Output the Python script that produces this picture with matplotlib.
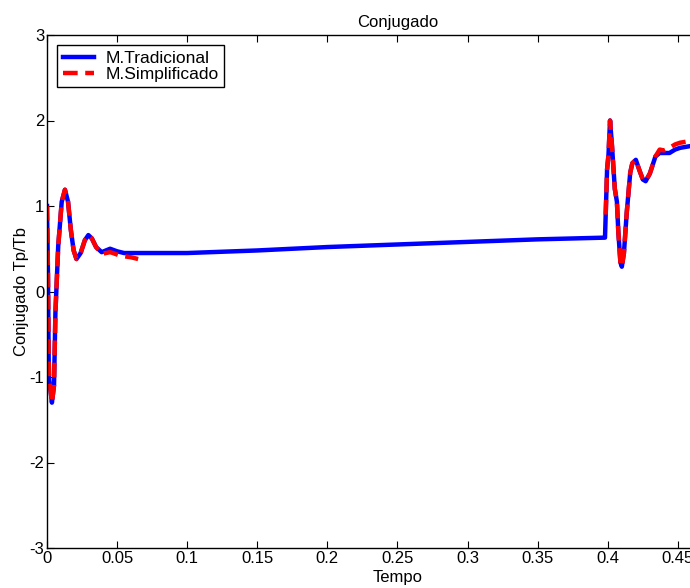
import matplotlib
matplotlib.use('Agg')
import numpy as np
import matplotlib.pyplot as plt

plt.rcParams['font.family'] = ['Liberation Sans', 'DejaVu Sans']
plt.rcParams['axes.unicode_minus'] = False

# M.Tradicional (full run)
t_trad = [0.0, 0.0007, 0.0012, 0.0015, 0.0025, 0.0035, 0.005, 0.006, 0.008,
          0.0105, 0.0128, 0.015, 0.017, 0.019, 0.021, 0.024, 0.027, 0.0295,
          0.032, 0.035, 0.039, 0.045, 0.05, 0.055, 0.07, 0.1, 0.15, 0.2,
          0.25, 0.3, 0.35, 0.398, 0.3985, 0.3995, 0.4005, 0.4016, 0.403,
          0.405, 0.4065, 0.4075, 0.409, 0.410, 0.4115, 0.4135, 0.416,
          0.4175, 0.420, 0.4225, 0.425, 0.427, 0.430, 0.434, 0.437, 0.440,
          0.444, 0.448, 0.4515, 0.4586, 0.47]
c_trad = [1.0, 0.2, -0.8, -1.03, -1.15, -1.3, -1.1, -0.25, 0.53,
          1.05, 1.19, 1.05, 0.72, 0.48, 0.38, 0.45, 0.6, 0.66,
          0.62, 0.52, 0.46, 0.50, 0.47, 0.45, 0.45, 0.45, 0.48, 0.52,
          0.55, 0.58, 0.61, 0.63, 0.9, 1.43, 1.6, 2.0, 1.7,
          1.2, 1.05, 0.7, 0.34, 0.29, 0.45, 0.92, 1.39,
          1.5, 1.54, 1.42, 1.31, 1.29, 1.38, 1.58, 1.62, 1.62,
          1.62, 1.66, 1.68, 1.70, 1.70]

# M.Simplificado (two pieces)
t_simp1 = [0.0, 0.0007, 0.0012, 0.0015, 0.0025, 0.0035, 0.005, 0.006, 0.008,
           0.0105, 0.0128, 0.015, 0.017, 0.019, 0.021, 0.024, 0.027, 0.0295,
           0.032, 0.035, 0.039, 0.045, 0.047, 0.052, 0.056, 0.06, 0.065]
c_simp1 = [1.0, 0.2, -0.8, -1.03, -1.15, -1.3, -1.1, -0.25, 0.53,
           1.05, 1.19, 1.05, 0.72, 0.48, 0.38, 0.45, 0.6, 0.66,
           0.62, 0.52, 0.44, 0.46, 0.45, 0.42, 0.41, 0.40, 0.38]
t_simp2 = [0.3985, 0.3995, 0.4005, 0.4016, 0.403, 0.405, 0.4065, 0.4075,
           0.409, 0.410, 0.4115, 0.4135, 0.416, 0.4175, 0.420, 0.4225, 0.425,
           0.427, 0.430, 0.434, 0.437, 0.440, 0.444, 0.448, 0.4515, 0.4586,
           0.47]
c_simp2 = [0.9, 1.43, 1.6, 2.0, 1.7, 1.2, 1.05, 0.7,
           0.34, 0.29, 0.45, 0.92, 1.39, 1.5, 1.54, 1.42, 1.31,
           1.29, 1.38, 1.58, 1.66, 1.65, 1.68, 1.72, 1.74, 1.76,
           1.77]

t_simp = t_simp1 + [np.nan] + t_simp2
c_simp = c_simp1 + [np.nan] + c_simp2

xticks = [0, 0.05, 0.1, 0.15, 0.2, 0.25, 0.3, 0.35, 0.4, 0.45]
xticklabels = ['0', '0.05', '0.1', '0.15', '0.2', '0.25', '0.3', '0.35', '0.4', '0.45']
yticks = [-3, -2, -1, 0, 1, 2, 3]

fs = 12

fig = plt.figure(figsize=(6.9, 5.88), dpi=100)
ax = fig.add_axes([47 / 690, 40 / 588, 701 / 690, 513 / 588])

ax.plot(t_trad, c_trad, color='#0000ff', lw=3.2, label='M.Tradicional')
ax.plot(t_simp, c_simp, color='#ff0000', lw=3.2, linestyle=(0, (3.3, 1.7)),
        label='M.Simplificado')

ax.set_xlim(0, 0.5)
ax.set_ylim(-3, 3)
ax.set_xticks(xticks)
ax.set_xticklabels(xticklabels)
ax.set_yticks(yticks)
ax.tick_params(direction='in', length=5, width=0.8, labelsize=fs,
               top=True, right=False, pad=2)
for s in ax.spines.values():
    s.set_linewidth(1.0)

ax.set_title('Conjugado', fontsize=fs, pad=6)
ax.set_xlabel('Tempo', fontsize=fs, labelpad=3)
ax.set_ylabel('Conjugado Tp/Tb', fontsize=fs, labelpad=0)

leg = ax.legend(loc='upper left', fontsize=12.5, handlelength=1.8,
                handletextpad=0.7, fancybox=False, framealpha=1,
                edgecolor='black', borderaxespad=0.6, labelspacing=0.05,
                borderpad=0.3)
leg.get_frame().set_linewidth(1.0)

fig.savefig('out.png', dpi=100)
